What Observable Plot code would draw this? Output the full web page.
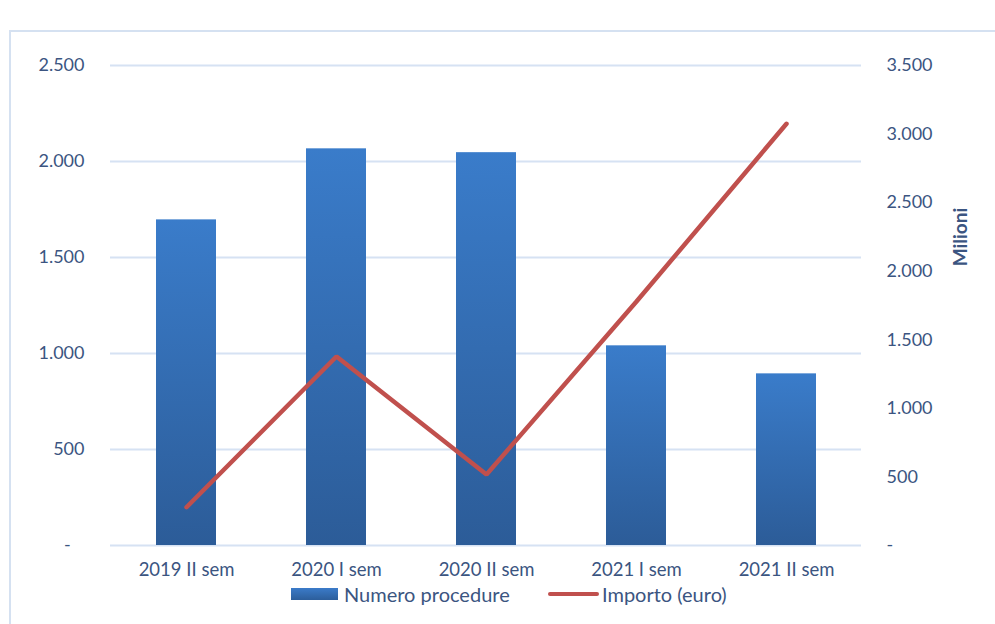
<!DOCTYPE html>
<html>
<head>
<meta charset="utf-8">
<script src="https://cdn.jsdelivr.net/npm/d3@7"></script>
<script src="https://cdn.jsdelivr.net/npm/@observablehq/plot@0.6"></script>
<style>
  html, body { margin: 0; padding: 0; background: #fff; }
  body { width: 995px; height: 624px; position: relative; overflow: hidden; font-family: Lato, "Open Sans", sans-serif; }
  #frame { position: absolute; left: 9px; top: 30px; width: 1000px; height: 700px; border-left: 2px solid #d5e1f1; border-top: 2px solid #d5e1f1; }
  #chart { position: absolute; left: 0; top: 0; }
  #legend { position: absolute; top: 583px; left: 0; width: 995px; height: 22px; font-size: 20px; color: #3b5581; }
  .lg { position: absolute; top: 0; white-space: nowrap; line-height: 22px; }
  .sw-bar { position: absolute; left: 291px; top: 5px; width: 47px; height: 12px; background: linear-gradient(#3b7bc9, #2c5e9b); }
  .sw-line { position: absolute; left: 548px; top: 9px; width: 51px; height: 4px; border-radius: 2px; background: #c0504d; }
</style>
</head>
<body>
<div id="frame"></div>
<div id="chart"></div>
<div id="legend">
  <div class="sw-bar"></div><div class="lg" style="left:344px">Numero procedure</div>
  <div class="sw-line"></div><div class="lg" style="left:602px">Importo (euro)</div>
</div>
<script>
const categories = ["2019 II sem", "2020 I sem", "2020 II sem", "2021 I sem", "2021 II sem"];
const numeroProcedure = [1696, 2066, 2046, 1040, 894];
const importoMilioni = [279, 1378, 518, 1779, 3075];
const leftTicks = [0, 500, 1000, 1500, 2000, 2500];
const rightTicks = [0, 500, 1000, 1500, 2000, 2500, 3000, 3500];
const leftMax = 2500, rightMax = 3500;
const rightTitle = "Milioni";

const it = d3.formatLocale({decimal: ",", thousands: ".", grouping: [3], currency: ["€", ""]});
const fmt = it.format(",d");

const data = categories.map((c, i) => ({cat: c, n: numeroProcedure[i], imp: importoMilioni[i]}));
const toLeft = v => v * leftMax / rightMax;
const textColor = "#3b5581";

const plot = Plot.plot({
  width: 995,
  height: 624,
  marginLeft: 110,
  marginRight: 134,
  marginTop: 65,
  marginBottom: 79,
  style: {fontFamily: "Lato, 'Open Sans', sans-serif", fontSize: "18px", color: textColor, background: "transparent", overflow: "visible"},
  x: {domain: categories, paddingInner: 0.6, paddingOuter: 0.3, align: 0.5},
  y: {domain: [0, leftMax]},
  marks: [
    Plot.ruleY(leftTicks, {stroke: "#d6e2f3", strokeWidth: 2}),
    Plot.barY(data, {x: "cat", y: "n", fill: "url(#barGrad)"}),
    Plot.line(data, {x: "cat", y: d => toLeft(d.imp), stroke: "#c0504d", strokeWidth: 4.5, strokeLinecap: "round", strokeLinejoin: "miter"}),
    Plot.axisX({tickSize: 0, tickPadding: 17, label: null, fontSize: 18.5, fill: textColor}),
    Plot.axisY(leftTicks, {anchor: "left", tickSize: 0, tickPadding: 26, label: null, fontSize: 18, fill: textColor,
      tickFormat: d => d === 0 ? "-\u00a0\u00a0\u00a0" : fmt(d)}),
    Plot.axisY(rightTicks.map(toLeft), {anchor: "right", tickSize: 0, tickPadding: 25, fontSize: 18, fill: textColor, label: null,
      tickFormat: d => { const v = Math.round(d * rightMax / leftMax); return v === 0 ? "-" : fmt(v); }})
  ]
});

const ns = "http://www.w3.org/2000/svg";
// gradient for bars
const defs = document.createElementNS(ns, "defs");
defs.innerHTML = '<linearGradient id="barGrad" x1="0" y1="0" x2="0" y2="1"><stop offset="0" stop-color="#3a7cca"/><stop offset="1" stop-color="#2c5c98"/></linearGradient>';
plot.insertBefore(defs, plot.firstChild);
// right axis title
const title = document.createElementNS(ns, "text");
title.textContent = rightTitle;
title.setAttribute("transform", "translate(960,237) rotate(-90)");
title.setAttribute("text-anchor", "middle");
title.setAttribute("dy", "0.35em");
title.setAttribute("font-weight", "bold");
title.setAttribute("font-size", "19");
title.setAttribute("fill", textColor);
plot.appendChild(title);
document.getElementById("chart").appendChild(plot);
</script>
</body>
</html>
